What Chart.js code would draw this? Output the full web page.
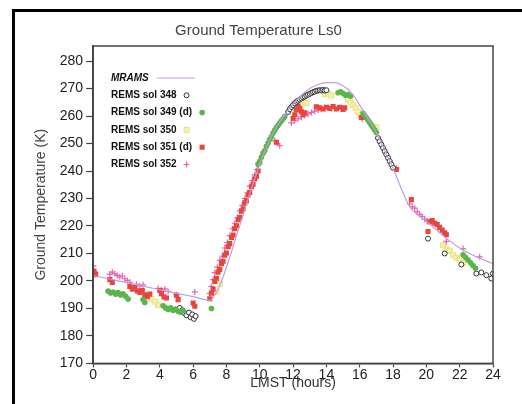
<!DOCTYPE html>
<html>
<head>
<meta charset="utf-8">
<script src="https://cdn.jsdelivr.net/npm/chart.js@4.4.0/dist/chart.umd.min.js"></script>
<style>
  html, body { margin: 0; padding: 0; background: #fff; }
</style>
</head>
<body>
<canvas id="groundChart" width="522" height="404"></canvas>
<script>
// tick values
const xTicks = [0, 2, 4, 6, 8, 10, 12, 14, 16, 18, 20, 22, 24];
const yTicks = [170, 180, 190, 200, 210, 220, 230, 240, 250, 260, 270, 280];

// model curve
const mramsHour = [0, 1, 2, 3, 4, 5, 6, 7, 7.5, 8, 8.5, 9, 9.5, 10, 10.5, 11, 11.5, 12, 12.5, 13, 13.5, 14, 14.5, 15, 15.5, 16, 16.5, 17, 17.5, 18, 18.5, 19, 19.5, 20, 21, 22, 23, 24];
const mramsTemp = [202, 200.7, 199.4, 198.1, 196.8, 195.5, 194.3, 193, 197, 205, 214.5, 224, 233.5, 242.5, 250, 256, 260.5, 264.5, 267.5, 270, 271.5, 272.2, 272.2, 271, 268.5, 264, 259, 254, 247.5, 241, 233.5, 227, 224, 221.7, 216.5, 212, 208.8, 206.3];

// REMS sol 348
const sol348Hour = [5.2, 5.35, 5.5, 5.6, 5.75, 5.85, 5.95, 6.05, 6.15,
  11.7, 11.8, 11.9, 12.0, 12.1, 12.2, 12.3, 12.4, 12.5, 12.6, 12.7, 12.8, 12.9, 13.0, 13.1, 13.2, 13.3, 13.4, 13.5, 13.6, 13.7, 13.8, 13.9, 14.0,
  17.1, 17.2, 17.3, 17.4, 17.5, 17.6, 17.7, 17.8, 17.9, 18.0,
  20.1, 21.1, 22.1, 23.0, 23.3, 23.6, 23.9, 24.0];
const sol348Temp = [190.2, 189.3, 188.2, 187.5, 188.5, 186.8, 187.8, 186.2, 187.2,
  261.5, 262.5, 263.3, 264, 264.6, 265.2, 265.6, 266, 266.4, 266.8, 267.1, 267.5, 267.8, 268.1, 268.4, 268.7, 268.9, 269.2, 269.3, 269.4, 269.3, 269.5, 269.3, 269.4,
  252, 250.8, 249.6, 248.4, 247.2, 246, 244.8, 243.6, 242.4, 241.2,
  215.4, 210, 206, 202.7, 203.1, 202.1, 200.9, 202.7];

// REMS sol 349 (d)
const sol349Hour = [0.9, 1.05, 1.2, 1.35, 1.5, 1.65, 1.8, 1.95, 2.1, 3.0, 3.1, 4.2, 4.35, 4.5, 4.65, 4.8, 4.95, 5.1, 5.25, 5.4, 7.1,
  9.9, 10.0, 10.1, 10.2, 10.3, 10.4, 10.5, 10.6, 10.7, 10.8, 10.9, 11.0, 11.1, 11.2, 11.3, 11.4, 11.5,
  14.7, 14.85, 15.0, 15.15, 15.3, 15.45,
  16.2, 16.3, 16.4, 16.5, 16.6, 16.7, 16.8, 16.9, 17.0,
  22.2, 22.35, 22.5, 22.65, 22.8, 22.95];
const sol349Temp = [196.3, 195.6, 196, 195.2, 195.8, 194.9, 195.3, 194.4, 193.4, 193.2, 192.2, 191, 190.2, 189.6, 190.2, 189.3, 189.8, 189, 188.6, 189.2, 190,
  242.5, 243.5, 245, 246.5, 247.5, 249, 250.2, 251.5, 252.5, 253.8, 254.8, 255.8, 256.6, 257.5, 258.3, 259, 259.8,
  268.5, 268.8, 268.2, 267.6, 267.8, 267.2,
  261, 260.2, 259.3, 258.5, 257.6, 256.7, 255.8, 254.9, 254,
  209.5, 208.6, 207.6, 206.6, 205.6, 204.6];

// REMS sol 350
const sol350Hour = [3.5, 3.7, 3.9, 7.4, 7.6,
  12.2, 12.5, 12.8, 13.9, 14.1, 14.3,
  15.3, 15.45, 15.6, 15.75, 15.9, 16.05, 17.0,
  21.0, 21.2, 21.4, 21.6, 21.8, 22.0, 22.2];
const sol350Temp = [193.5, 192.5, 191.2, 196, 199,
  262.5, 263.8, 264.8, 268, 268.3, 267.5,
  266, 265, 264, 263, 261.5, 260.2, 256,
  213, 211.5, 211, 209.5, 208.5, 207.8, 206.5];

// REMS sol 351 (d)
const sol351Hour = [0.05, 0.15, 1.0, 1.15, 2.2, 2.35, 2.5, 2.65, 2.8, 2.95, 3.1, 3.25, 3.4, 4.0, 4.1, 4.25, 4.4, 5.0, 5.1, 6.0, 6.1,
  7.0, 7.1, 7.2, 7.3, 7.4, 7.5, 7.6, 7.7, 7.8, 7.9, 8.0, 8.1, 8.2, 8.3, 8.4, 8.5, 8.6, 8.7, 8.8, 8.9, 9.0, 9.1, 9.2, 9.3, 9.4, 9.5, 9.6, 9.7, 9.8, 9.9,
  11.0, 12.0, 12.1, 12.2, 12.3, 12.4, 12.5, 12.6, 12.7, 13.4, 13.6, 13.8, 14.0, 14.2, 14.4, 14.6, 14.8, 15.0, 15.1, 16.1,
  18.2, 19.1, 20.1, 20.2, 20.35, 20.5, 20.65, 20.8, 20.95, 21.1, 21.2];
const sol351Temp = [203.5, 202.3, 200.5, 199.5, 198, 197, 197.6, 196.4, 195.8, 196.5, 195, 194.3, 195.2, 196.5, 195.4, 194.2, 193.8, 194.8, 193.2, 192, 190.8,
  193.5, 195.5, 197, 199.8, 201, 203.2, 204.2, 206.3, 207.2, 209.4, 210.2, 212.5, 213.6, 215.8, 216.7, 219, 220.1, 222.3, 223.2, 225.4, 226.3, 228.4, 229.2, 231.3, 232.2, 234.3, 235.2, 237.2, 238.1, 240,
  250.5, 259.2, 260.5, 262.2, 263.6, 262.8, 261.6, 260.6, 261.2, 263.4, 263, 262.6, 263.2, 262.8, 263.5, 262.6, 263.2, 262.4, 263, 259.5,
  240.6, 229.6, 218, 221.5, 222, 221, 220.5, 219.5, 218.5, 217.5, 216.8];

// REMS sol 352
const sol352Hour = [0.02, 0.08, 1.0, 1.15, 1.3, 1.45, 1.6, 1.75, 1.9, 2.05, 2.2, 2.6, 2.8, 3.0, 3.9, 4.1, 4.3, 4.5, 5.0, 6.1,
  7.0, 7.1, 7.2, 7.3, 7.45, 7.6, 7.75, 7.9, 8.05, 8.2, 8.35, 8.5, 8.65, 8.8, 8.95, 9.1, 9.25, 9.4, 9.55, 9.7, 9.85, 10.0,
  10.9, 11.05, 11.2, 11.9, 12.1, 12.3, 12.5, 12.7, 12.9, 13.1, 13.3, 13.5, 13.7, 13.9, 14.1, 14.3, 14.5, 14.7,
  16.15, 17.1, 18.2, 19.0, 19.15, 19.3, 19.45, 19.6, 19.75, 19.9, 20.05, 21.2, 22.2, 23.2];
const sol352Temp = [205.5, 203.5, 202.5, 203.2, 202.6, 202, 201.5, 201.8, 200.8, 200.2, 199.5, 198.8, 198.2, 198.6, 197.3, 196.8, 197.1, 196.2, 195, 196,
  195.5, 198, 200.5, 203, 205, 207.5, 209, 212, 214, 216.5, 219, 221, 223, 225.5, 227.5, 230, 232, 234.5, 236.5, 238.5, 240.5, 242.5,
  251, 250, 249.2, 257.5, 258.3, 259, 259.6, 260.2, 260.8, 261.3, 261.8, 262.2, 262.5, 262.8, 263, 262.7, 263.2, 262.9,
  258.8, 252, 241, 228, 227, 226.5, 225.2, 224.2, 223.5, 222.5, 221.8, 214.4, 211.8, 208.8];

const toPoints = (hours, temps) => hours.map((h, i) => ({ x: h, y: temps[i] }));

// outer frame, plot box
const framePlugin = {
  id: 'frame',
  beforeDraw(chart) {
    const ctx = chart.ctx;
    ctx.save();
    ctx.fillStyle = '#fff';
    ctx.fillRect(0, 0, chart.width, chart.height);
    ctx.fillStyle = '#000';
    ctx.fillRect(12, 9, chart.width - 12, 3);
    ctx.fillRect(12, 9, 3, chart.height - 9);
    ctx.restore();
  },
  afterDraw(chart) {
    const { left, top, right, bottom } = chart.chartArea;
    const ctx = chart.ctx;
    ctx.save();
    ctx.strokeStyle = '#444';
    ctx.lineWidth = 1.5;
    ctx.strokeRect(left, top, right - left, bottom - top);
    ctx.restore();
  }
};

// legend inside plot, symbol after the text
const legendPlugin = {
  id: 'insideLegend',
  afterDatasetsDraw(chart) {
    const ctx = chart.ctx;
    ctx.save();
    ctx.textBaseline = 'middle';
    ctx.textAlign = 'left';
    chart.data.datasets.forEach((ds, i) => {
      const y = 78 + i * 17.3;
      ctx.font = (i === 0 ? 'italic ' : '') + 'bold 10px "Liberation Sans", Arial, sans-serif';
      ctx.fillStyle = '#111';
      ctx.fillText(ds.label, 111, y);
      const w = ctx.measureText(ds.label).width;
      if (ds.type === 'line') {
        ctx.strokeStyle = ds.borderColor;
        ctx.lineWidth = 1.2;
        ctx.beginPath();
        ctx.moveTo(111 + w + 8, y);
        ctx.lineTo(111 + w + 46, y);
        ctx.stroke();
      } else {
        ctx.fillStyle = ds.backgroundColor;
        ctx.strokeStyle = ds.borderColor;
        ctx.lineWidth = ds.borderWidth;
        Chart.helpers.drawPoint(ctx, {
          pointStyle: ds.pointStyle,
          radius: ds.pointRadius,
          rotation: 0,
          borderWidth: ds.borderWidth
        }, 111 + w + 10, y);
      }
    });
    ctx.restore();
  }
};

const tickFont = { family: '"Liberation Sans", Arial, sans-serif', size: 14 };

new Chart(document.getElementById('groundChart'), {
  type: 'scatter',
  data: {
    datasets: [
      {
        type: 'line',
        label: 'MRAMS',
        data: toPoints(mramsHour, mramsTemp),
        borderColor: '#c39be6',
        borderWidth: 1.2,
        pointRadius: 0,
        cubicInterpolationMode: 'monotone',
        fill: false,
        order: 1
      },
      {
        label: 'REMS sol 348',
        data: toPoints(sol348Hour, sol348Temp),
        pointStyle: 'circle',
        pointRadius: 2.5,
        backgroundColor: '#fff',
        borderColor: '#333',
        borderWidth: 1,
        order: 3
      },
      {
        label: 'REMS sol 349 (d)',
        data: toPoints(sol349Hour, sol349Temp),
        pointStyle: 'circle',
        pointRadius: 2.8,
        backgroundColor: '#5ab54b',
        borderColor: '#5ab54b',
        borderWidth: 0,
        order: 2
      },
      {
        label: 'REMS sol 350',
        data: toPoints(sol350Hour, sol350Temp),
        pointStyle: 'rect',
        pointRadius: 3.6,
        backgroundColor: '#f6f2a6',
        borderColor: '#e9e08a',
        borderWidth: 1,
        order: 6
      },
      {
        label: 'REMS sol 351 (d)',
        data: toPoints(sol351Hour, sol351Temp),
        pointStyle: 'rect',
        pointRadius: 3.6,
        backgroundColor: '#e8453c',
        borderColor: '#e8453c',
        borderWidth: 0,
        order: 4
      },
      {
        label: 'REMS sol 352',
        data: toPoints(sol352Hour, sol352Temp),
        pointStyle: 'cross',
        pointRadius: 3,
        backgroundColor: '#e466b0',
        borderColor: '#e466b0',
        borderWidth: 1.2,
        order: 5
      }
    ]
  },
  options: {
    responsive: false,
    animation: false,
    devicePixelRatio: 1,
    layout: { padding: { left: 24, right: 29, top: 0, bottom: 10 } },
    plugins: {
      legend: { display: false },
      tooltip: { enabled: false },
      title: {
        display: true,
        text: 'Ground Temperature Ls0',
        color: '#444',
        font: { family: '"Liberation Sans", Arial, sans-serif', size: 15, weight: 'normal' },
        padding: { top: 22, bottom: 6 }
      }
    },
    scales: {
      x: {
        type: 'linear',
        min: 0,
        max: 24,
        afterBuildTicks: scale => { scale.ticks = xTicks.map(v => ({ value: v })); },
        ticks: { color: '#222', font: tickFont, padding: -1, maxRotation: 0 },
        grid: { drawOnChartArea: false, tickLength: 4, color: '#444', tickWidth: 1.2 },
        border: { color: '#444', width: 1.5 },
        title: {
          display: true,
          text: 'LMST (hours)',
          color: '#333',
          font: tickFont,
          padding: { top: -7, bottom: 2 }
        }
      },
      y: {
        min: 170,
        max: 285.5,
        afterBuildTicks: scale => { scale.ticks = yTicks.map(v => ({ value: v })); },
        ticks: { color: '#222', font: tickFont, padding: 3 },
        grid: { drawOnChartArea: false, tickLength: 7, color: '#444', tickWidth: 1.2 },
        border: { color: '#444', width: 1.5 },
        title: {
          display: true,
          text: 'Ground Temperature (K)',
          color: '#444',
          font: tickFont,
          padding: { top: 9, bottom: 7 }
        }
      }
    }
  },
  plugins: [framePlugin, legendPlugin]
});
</script>
</body>
</html>
